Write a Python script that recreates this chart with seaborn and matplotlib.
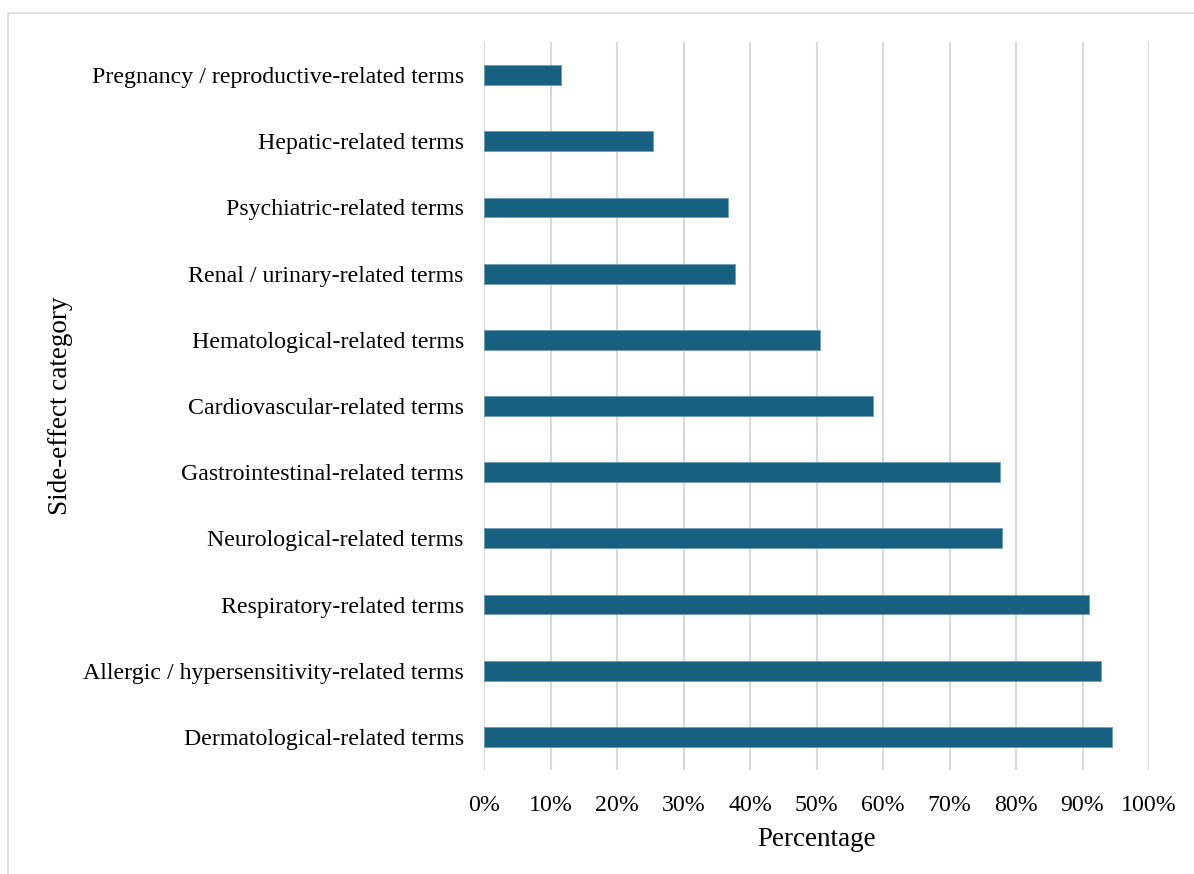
import matplotlib
matplotlib.use("Agg")
import matplotlib.pyplot as plt
from matplotlib.patches import Rectangle
from matplotlib.ticker import FuncFormatter, MultipleLocator
import pandas as pd
import seaborn as sns

categories = [
    "Pregnancy / reproductive-related terms",
    "Hepatic-related terms",
    "Psychiatric-related terms",
    "Renal / urinary-related terms",
    "Hematological-related terms",
    "Cardiovascular-related terms",
    "Gastrointestinal-related terms",
    "Neurological-related terms",
    "Respiratory-related terms",
    "Allergic / hypersensitivity-related terms",
    "Dermatological-related terms",
]
percentages = [11.6, 25.4, 36.7, 37.7, 50.5, 58.5, 77.6, 77.9, 91.0, 92.8, 94.4]

df = pd.DataFrame({"category": categories, "percentage": percentages})

sns.set_theme(style="white")
plt.rcParams["font.family"] = ["Liberation Serif", "DejaVu Serif"]

fig = plt.figure(figsize=(11.94, 8.74), dpi=100)
ax = fig.add_axes([484 / 1194, 1 - 770 / 874, (1149 - 484) / 1194, (770 - 42) / 874])

# light frame around the chart area
fig.patches.append(Rectangle((8 / 1194, -0.01), 1.0, 1 - 13 / 874 + 0.01,
                             transform=fig.transFigure, fill=False,
                             edgecolor="#d9d9d9", linewidth=1.2, zorder=0))

sns.barplot(data=df, x="percentage", y="category", orient="h", ax=ax,
            color="#17607f", saturation=1, width=0.3,
            edgecolor="#6f9bb3", linewidth=0.6, zorder=3)

ax.set_xlim(0, 100)
ax.set_ylim(10.5, -0.5)
ax.xaxis.set_major_locator(MultipleLocator(10))
ax.xaxis.set_major_formatter(FuncFormatter(lambda v, _: f"{v:.0f}%"))
ax.grid(axis="x", color="#d9d9d9", linewidth=1.5, zorder=0)
ax.grid(axis="y", visible=False)
ax.set_axisbelow(True)
for s in ax.spines.values():
    s.set_visible(False)

ax.tick_params(axis="both", length=0, labelsize=17.2, colors="#000000")
ax.tick_params(axis="y", pad=14.5)
ax.tick_params(axis="x", pad=18)
ax.set_xlabel("Percentage", fontsize=19.5, color="#000000", labelpad=8)
ax.set_ylabel("Side-effect category", fontsize=19.5, color="#000000")
ax.yaxis.set_label_coords(-0.618, 0.5)

fig.savefig("out.png", dpi=100)
